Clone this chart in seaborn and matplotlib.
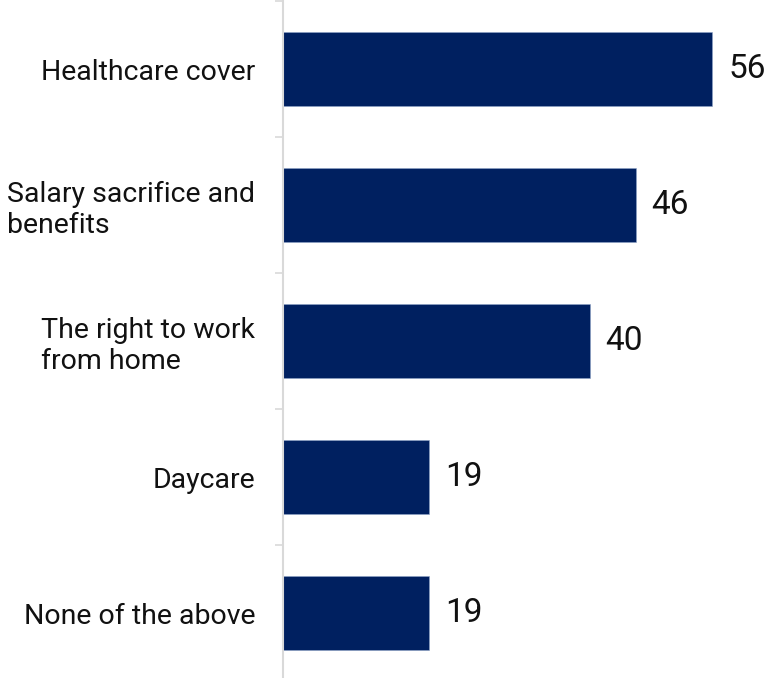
import matplotlib
matplotlib.use("Agg")
import matplotlib.pyplot as plt
import seaborn as sns
import pandas as pd
from matplotlib.ticker import FixedLocator

categories = ["Healthcare cover", "Salary sacrifice and\nbenefits", "The right to work\nfrom home", "Daycare", "None of the above"]
values = [56, 46, 40, 19, 19]

sns.set_theme(style="white")
plt.rcParams['font.family'] = ['Roboto', 'DejaVu Sans']

df = pd.DataFrame({"category": categories, "value": values})

fig = plt.figure(figsize=(7.75, 6.78), dpi=100)
ax = fig.add_axes([283/775, -3/678, 1 - 283/775, 680/678])
sns.barplot(data=df, y="category", x="value", orient="h", color="#002060",
            width=0.55, saturation=1, ax=ax, edgecolor="#8fa3c8", linewidth=0.4)

ax.set_xlim(0, 64.2)
ax.set_ylim(4.5, -0.5)
ax.set_xlabel("")
ax.set_ylabel("")
ax.set_xticks([])
for s in ["top", "right", "bottom"]:
    ax.spines[s].set_visible(False)
ax.spines["left"].set_color("#d9d9d9")
ax.spines["left"].set_linewidth(1.5)

ax.yaxis.set_minor_locator(FixedLocator([i - 0.5 for i in range(len(categories) + 1)]))
ax.tick_params(axis="y", which="minor", length=6, width=1.2, color="#d9d9d9", left=True)
ax.tick_params(axis="y", which="major", length=0, pad=20, labelsize=20.5, labelcolor="#111111")
for lbl in ax.get_yticklabels():
    lbl.set_multialignment("left")
    lbl.set_linespacing(1.2)

for i, v in enumerate(values):
    ax.text(v + 2.1, i, str(v), va="center", ha="left", fontsize=24, color="#111111")

fig.savefig("out.png", dpi=100)
